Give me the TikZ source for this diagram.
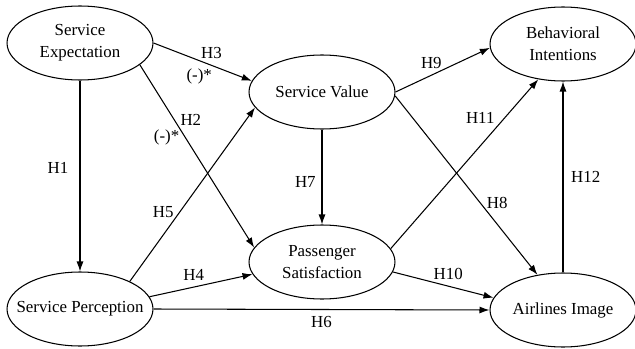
\documentclass[tikz,border=0pt]{standalone}
\usepackage{fontspec}
\setmainfont{Liberation Serif}
\usetikzlibrary{arrows.meta,shapes.geometric}

\begin{document}
\begin{tikzpicture}[x=0.02cm, y=-0.02cm, font=\fontsize{9.6}{12.3}\selectfont,
  latent/.style={draw,ellipse,line width=0.6pt,minimum width=2.92cm,minimum height=1.48cm,inner xsep=-0.5cm,inner ysep=0pt,align=center},
  hyp/.style={-{Latex[length=2mm,width=1.4mm]},line width=0.6pt}]
  \useasboundingbox (0,0) rectangle (635,348);
  \node[latent] (expect) at (80,43) {Service\\Expectation};
  \node[latent] (value) at (322,92) {Service Value};
  \node[latent] (intent) at (563,44) {Behavioral\\Intentions};
  \node[latent] (percept) at (80,309) {Service Perception};
  \node[latent] (satisf) at (322,262) {Passenger\\Satisfaction};
  \node[latent] (image) at (563,310) {Airlines Image};

  \draw[hyp] (expect.south) -- node[pos=0.46,left=3pt] (h1) {H1} (percept.north);
  \draw[hyp] (expect.east) -- node[pos=0.59,above] (h3) {H3} node[pos=0.465,below=1pt] (h3s) {(-)*} (value.171);
  \draw[hyp] (expect.-20) -- node[pos=0.30,right] (h2) {H2} node[pos=0.40,left] (h2s) {(-)*} (satisf.168);
  \draw[hyp] (percept.29) -- node[pos=0.40,left] (h5) {H5} (value.193);
  \draw[hyp] (percept.10) -- node[pos=0.43,above] (h4) {H4} (satisf.190);
  \draw[hyp] (percept.east) -- node[pos=0.5,below] (h6) {H6} (image.west);
  \draw[hyp] (value.south) -- node[pos=0.55,left] (h7) {H7} (satisf.north);
  \draw[hyp] (value.-3) -- node[pos=0.6,right] (h8) {H8} (image.126);
  \draw[hyp] (value.east) -- node[pos=0.38,above] (h9) {H9} (intent.183);
  \draw[hyp] (satisf.-8) -- node[pos=0.55,above] (h10) {H10} (image.170);
  \draw[hyp] (satisf.11) -- node[pos=0.77,left=2pt] (h11) {H11} (intent.235);
  \draw[hyp] (image.north) -- node[pos=0.5,right=1pt] (h12) {H12} (intent.south);
\end{tikzpicture}
\end{document}
